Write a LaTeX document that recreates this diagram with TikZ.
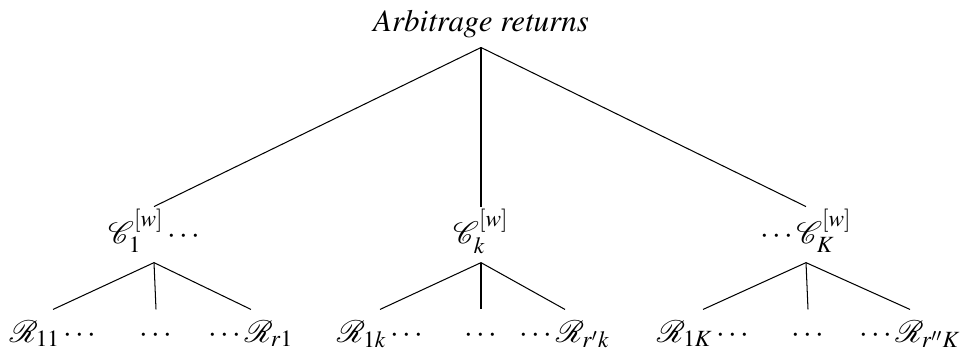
\documentclass[tikz,border=0pt,12pt]{standalone}
\usepackage{mathptmx}
\usepackage[T1]{fontenc}
\usepackage{mathrsfs}
\begin{document}
\begin{tikzpicture}[x=0.3871pt,y=-0.3871pt,
  rootnode/.style={anchor=base, inner sep=0pt, text depth=5.8pt, font=\fontfamily{ptm}\itshape},
  lvl/.style={anchor=base, inner sep=0pt, text height=13.9pt, text depth=7.4pt},
  leaf/.style={anchor=base, inner sep=0pt, text height=12.4pt, text depth=3pt},
  branch/.style={line width=0.4pt, draw=black}]
\useasboundingbox (0,0) rectangle (963,354);
\node[rootnode] (root) at (481,32) {Arbitrage returns};
\node[lvl] (c1) at (154,243) {$\mathscr{C}_1^{[w]}\cdots$};
\node[lvl] (ck) at (481,243) {$\mathscr{C}_k^{[w]}$};
\node[lvl] (cK) at (806,243) {$\cdots\mathscr{C}_K^{[w]}$};
\node[leaf] (r11) at (53,342) {$\mathscr{R}_{11}\cdots$};
\node[leaf] (d1) at (156,342) {$\cdots$};
\node[leaf] (rr1) at (251,342) {$\cdots\mathscr{R}_{r1}$};
\node[leaf] (r1k) at (380,342) {$\mathscr{R}_{1k}\cdots$};
\node[leaf] (d2) at (481,342) {$\cdots$};
\node[leaf] (rrk) at (565,342) {$\cdots\mathscr{R}_{r'k}$};
\node[leaf] (r1K) at (703,342) {$\mathscr{R}_{1K}\cdots$};
\node[leaf] (d3) at (808,342) {$\cdots$};
\node[leaf] (rrK) at (910,342) {$\cdots\mathscr{R}_{r''K}$};
\foreach \c in {c1,ck,cK} \draw[branch] (root.south) -- (\c.north);
\foreach \c in {r11,d1,rr1} \draw[branch] (c1.south) -- (\c.north);
\foreach \c in {r1k,d2,rrk} \draw[branch] (ck.south) -- (\c.north);
\foreach \c in {r1K,d3,rrK} \draw[branch] (cK.south) -- (\c.north);
\end{tikzpicture}
\end{document}
